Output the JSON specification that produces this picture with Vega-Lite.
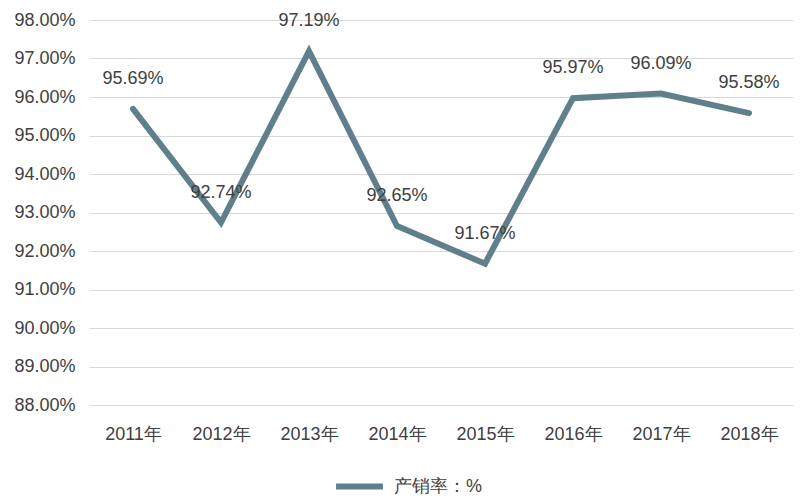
{
  "$schema": "https://vega.github.io/schema/vega-lite/v6.json",
  "width": 704,
  "height": 385,
  "autosize": "none",
  "padding": {"left": 89, "top": 20, "right": 7, "bottom": 95},
  "background": "white",
  "data": {
    "values": [
      {"year": "2011年", "rate": 95.69, "label": "95.69%", "series": "产销率：%"},
      {"year": "2012年", "rate": 92.74, "label": "92.74%", "series": "产销率：%"},
      {"year": "2013年", "rate": 97.19, "label": "97.19%", "series": "产销率：%"},
      {"year": "2014年", "rate": 92.65, "label": "92.65%", "series": "产销率：%"},
      {"year": "2015年", "rate": 91.67, "label": "91.67%", "series": "产销率：%"},
      {"year": "2016年", "rate": 95.97, "label": "95.97%", "series": "产销率：%"},
      {"year": "2017年", "rate": 96.09, "label": "96.09%", "series": "产销率：%"},
      {"year": "2018年", "rate": 95.58, "label": "95.58%", "series": "产销率：%"}
    ]
  },
  "config": {
    "view": {"stroke": null},
    "font": "Liberation Sans",
    "axis": {"labelFont": "Liberation Sans", "labelColor": "#404040", "labelFontSize": 18}
  },
  "encoding": {
    "x": {
      "field": "year", "type": "ordinal", "sort": null,
      "scale": {"type": "point", "padding": 0.5},
      "axis": {"title": null, "labelAngle": 0, "domain": false, "ticks": false, "labelPadding": 20, "grid": false}
    },
    "y": {
      "field": "rate", "type": "quantitative",
      "scale": {"domain": [88, 98], "nice": false, "zero": false},
      "axis": {"title": null, "values": [88,89,90,91,92,93,94,95,96,97,98], "labelOverlap": false, "domain": false, "ticks": false, "labelPadding": 14, "gridColor": "#d9d9d9", "gridWidth": 1.2, "labelExpr": "format(datum.value, '.2f') + '%'"}
    }
  },
  "layer": [
    {
      "mark": {"type": "line", "strokeWidth": 6, "strokeCap": "round"},
      "encoding": {
        "color": {
          "field": "series", "type": "nominal",
          "scale": {"range": ["#5e7f8b"]},
          "legend": {"title": null, "orient": "none", "legendX": 244, "legendY": 440, "symbolType": "stroke", "symbolStrokeWidth": 6, "symbolSize": 2200, "labelFontSize": 18, "labelColor": "#404040", "labelFont": "Liberation Sans", "labelOffset": 8}
        }
      }
    },
    {
      "mark": {"type": "text", "dy": -30, "fontSize": 18, "color": "#404040", "font": "Liberation Sans"},
      "encoding": {
        "text": {"field": "label", "type": "nominal"}
      }
    }
  ]
}
